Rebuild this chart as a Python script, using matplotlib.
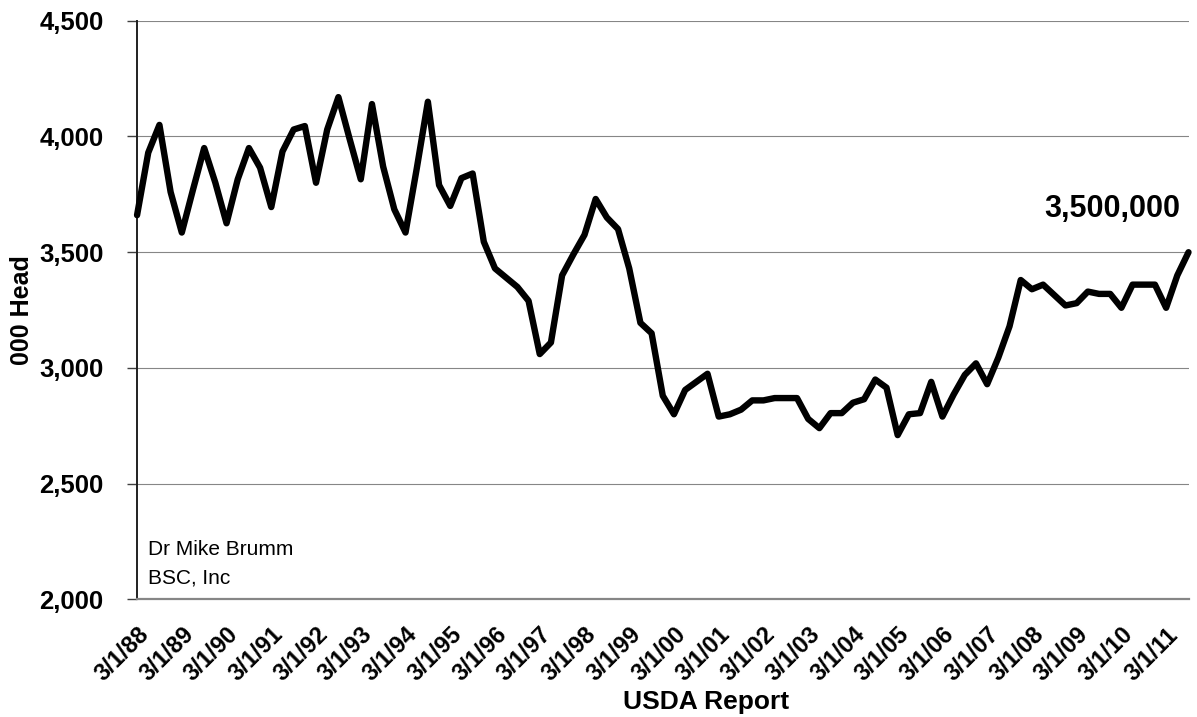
import matplotlib
matplotlib.use("Agg")
import matplotlib.pyplot as plt
import matplotlib.transforms as mtransforms
from matplotlib.ticker import FuncFormatter

plt.rcParams["font.family"] = ["Liberation Sans", "DejaVu Sans"]

# Quarterly USDA report values, 3/1/88 through 9/1/11 (000 head)
head = [
    3660, 3930, 4050, 3760, 3585, 3770, 3950, 3800, 3625, 3815,
    3950, 3865, 3695, 3935, 4030, 4045, 3800, 4030, 4170, 3990,
    3815, 4140, 3870, 3685, 3585, 3860, 4150, 3790, 3700, 3820,
    3840, 3545, 3430, 3390, 3350, 3290, 3060, 3110, 3400, 3490,
    3575, 3730, 3650, 3600, 3430, 3195, 3150, 2880, 2800, 2905,
    2940, 2975, 2790, 2800, 2820, 2860, 2860, 2870, 2870, 2870,
    2780, 2740, 2805, 2805, 2850, 2865, 2950, 2915, 2710, 2800,
    2805, 2940, 2790, 2885, 2970, 3020, 2930, 3045, 3180, 3380,
    3340, 3360, 3315, 3270, 3280, 3330, 3320, 3320, 3260, 3360,
    3360, 3360, 3260, 3400, 3500,
]
years = ["88", "89", "90", "91", "92", "93", "94", "95", "96", "97", "98", "99",
         "00", "01", "02", "03", "04", "05", "06", "07", "08", "09", "10", "11"]
year_labels = ["3/1/" + y for y in years]
latest_label = "3,500,000"

fig = plt.figure(figsize=(11.97, 7.17), dpi=100)
ax = fig.add_axes([0.1145, 0.1639, 0.8784, 0.8072])

x = list(range(len(head)))
ax.plot(x, head, color="black", lw=4.6, solid_joinstyle="round", solid_capstyle="round",
        zorder=3, clip_on=False)

ax.set_xlim(0, len(head) - 1)
ax.set_ylim(2000, 4500)
ax.set_yticks(range(2000, 4501, 500))
ax.yaxis.set_major_formatter(FuncFormatter(lambda v, p: f"{int(v):,}"))
ax.grid(axis="y", color="#868686", lw=0.8)
ax.set_axisbelow(True)

ax.set_xticks([4 * i for i in range(len(year_labels))])
ax.set_xticklabels(year_labels, fontsize=17, fontweight="bold")
shift = mtransforms.ScaledTranslation(-1 / 100, 0, fig.dpi_scale_trans)
for lbl in ax.get_xticklabels():
    lbl.set_rotation(45)
    lbl.set_ha("right")
    lbl.set_va("top")
    lbl.set_rotation_mode("anchor")
    lbl.set_transform(lbl.get_transform() + shift)
ax.tick_params(axis="x", length=0, pad=17)
ax.tick_params(axis="y", length=7, width=1, color="#404040", pad=17, labelsize=18.5)
for lbl in ax.get_yticklabels():
    lbl.set_fontweight("bold")

for side in ("top", "right"):
    ax.spines[side].set_visible(False)
ax.spines["left"].set_color("#202020")
ax.spines["left"].set_linewidth(1.4)
ax.spines["bottom"].set_color("#868686")
ax.spines["bottom"].set_linewidth(1.6)

ax.set_ylabel("000 Head", fontsize=18, fontweight="bold")
ax.yaxis.set_label_coords(-0.098, 0.5)
ax.set_xlabel("USDA Report", fontsize=19, fontweight="bold")
ax.xaxis.set_label_coords(0.541, -0.157)

ax.text(87.2, 3685, latest_label, fontsize=22, fontweight="bold",
        ha="center", va="center")
ax.text(0.01, 0.103, "Dr Mike Brumm\nBSC, Inc", transform=ax.transAxes,
        fontsize=15, ha="left", va="top", linespacing=1.62)

fig.savefig("out.png", dpi=100)
